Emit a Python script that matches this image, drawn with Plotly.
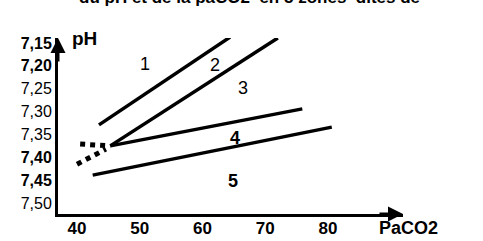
import plotly.graph_objects as go

# ---- data ----
x_ticks = [40, 50, 60, 70, 80]
x_ticklabels = ["40", "50", "60", "70", "80"]
y_ticks = [7.15, 7.20, 7.25, 7.30, 7.35, 7.40, 7.45, 7.50]
y_ticklabels = ["<b>7,15</b>", "<b>7,20</b>", "7,25", "7,30", "7,35", "<b>7,40</b>", "<b>7,45</b>", "7,50"]

line1_x = [43.5, 64.4]
line1_y = [7.329, 7.137]
line2_x = [45.3, 72.0]
line2_y = [7.375, 7.139]
line4_x = [45.3, 75.9]
line4_y = [7.375, 7.294]
line5_x = [42.5, 80.6]
line5_y = [7.439, 7.334]
dot_h_x = [40.5, 45.3]
dot_h_y = [7.371, 7.375]
dot_d_x = [40.0, 44.6]
dot_d_y = [7.415, 7.382]

zone_labels = ["1", "2", "3", "4", "5"]
zone_x = [50.8, 62.0, 66.4, 65.2, 64.9]
zone_y = [7.196, 7.198, 7.248, 7.358, 7.452]
zone_bold = [False, False, False, True, True]

FONT = "Liberation Sans, Arial, sans-serif"

fig = go.Figure()
for xs, ys in [(line1_x, line1_y), (line2_x, line2_y), (line4_x, line4_y), (line5_x, line5_y)]:
    fig.add_trace(go.Scatter(x=xs, y=ys, mode="lines",
                             line=dict(color="black", width=3.5), showlegend=False,
                             hoverinfo="skip"))
for xs, ys in [(dot_h_x, dot_h_y), (dot_d_x, dot_d_y)]:
    fig.add_trace(go.Scatter(x=xs, y=ys, mode="lines",
                             line=dict(color="black", width=5, dash="dot"),
                             showlegend=False, hoverinfo="skip"))

for t, x, y, b in zip(zone_labels, zone_x, zone_y, zone_bold):
    fig.add_annotation(x=x, y=y, text=f"<b>{t}</b>" if b else t, showarrow=False,
                       font=dict(family=FONT, size=18, color="black"))

# axis titles
fig.add_annotation(xref="paper", yref="paper", x=0.035, y=1.0, xanchor="left",
                   yanchor="middle", text="<b>pH</b>", showarrow=False,
                   font=dict(family=FONT, size=19, color="black"))
fig.add_annotation(xref="paper", yref="paper", x=0.925, y=-0.08, xanchor="left",
                   yanchor="middle", text="<b>PaCO2</b>", showarrow=False,
                   font=dict(family=FONT, size=18, color="black"))

# arrow heads on the axes
fig.add_annotation(xref="paper", yref="paper", x=0, y=1.0, ax=0, ay=25,
                   showarrow=True, arrowhead=2, arrowwidth=3, arrowsize=1,
                   arrowcolor="black", text="")
fig.add_annotation(xref="paper", yref="paper", x=1.0, y=0, ax=-25, ay=0,
                   showarrow=True, arrowhead=2, arrowwidth=3, arrowsize=1,
                   arrowcolor="black", text="")

# cropped caption at the top
fig.add_annotation(xref="paper", yref="paper", x=0.055, y=1.167, xanchor="left",
                   yanchor="bottom", text="<b>du pH et de la paCO2  en 5 zones  dites de</b>",
                   showarrow=False, font=dict(family=FONT, size=17, color="black"))

fig.update_layout(
    width=483, height=241,
    margin=dict(l=58, r=80, t=38, b=27, autoexpand=False),
    paper_bgcolor="white", plot_bgcolor="white",
    xaxis=dict(range=[36.97, 91.95], tickvals=x_ticks,
               ticktext=[f"<b>{t}</b>" for t in x_ticklabels], automargin=False,
               ticklabelstandoff=-3,
               showgrid=False, zeroline=False, showline=True, linecolor="black",
               linewidth=3, ticks="", tickfont=dict(family=FONT, size=17, color="black")),
    yaxis=dict(range=[7.524, 7.139], tickvals=y_ticks, ticktext=y_ticklabels,
               automargin=False,
               showgrid=False, zeroline=False, showline=True, linecolor="black",
               linewidth=3, ticks="", tickfont=dict(family=FONT, size=16, color="black")),
)

fig.write_html("out.html")
